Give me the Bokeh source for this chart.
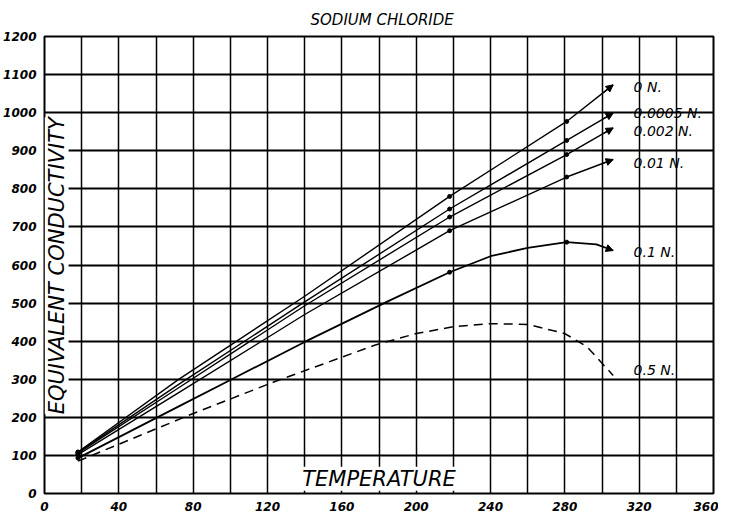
from bokeh.plotting import figure
from bokeh.models import Range1d, FixedTicker, Label, Arrow, NormalHead
from bokeh.embed import file_html
from bokeh.resources import INLINE

# ---- data ----
temps_upper = [18, 72, 140, 218, 281, 306]
cond_0 = [109, 299, 518, 780, 977, 1073]
cond_00005 = [108, 286, 503, 747, 927, 999]
cond_0002 = [106, 277, 493, 726, 890, 960]
cond_001 = [102, 264, 470, 690, 831, 877]

temps_01 = [18, 72, 100, 140, 185, 218, 240, 260, 281, 297, 306]
cond_01 = [93, 228, 298, 398, 505, 581, 623, 645, 660, 654, 638]

temps_05 = [18, 80, 123, 178, 200, 220, 240, 260, 280, 292, 306]
cond_05 = [85, 210, 292, 390, 420, 438, 446, 444, 420, 385, 310]

dot_temps = [18, 218, 281]

series_names = ["0 N.", "0.0005 N.", "0.002 N.", "0.01 N.", "0.1 N.", "0.5 N."]
label_values = [1068, 1000, 953, 869, 633, 323]
label_temp = 317

x_ticks = list(range(0, 361, 40))
x_grid = list(range(0, 361, 20))
y_ticks = list(range(0, 1201, 100))

FONT = "DejaVu Sans"

p = figure(width=718, height=516, x_range=Range1d(0, 360), y_range=Range1d(0, 1200),
           output_backend="svg", toolbar_location=None,
           min_border_left=40, min_border_right=5, min_border_top=36, min_border_bottom=23,
           background_fill_color="white", border_fill_color="white")

p.title.text = "SODIUM CHLORIDE"
p.title.align = "left"
p.title.offset = 266
p.title.standoff = 15
p.title.text_font = FONT
p.title.text_font_size = "15px"
p.title.text_font_style = "italic"
p.title.text_color = "black"

# axes
for ax, ticks in ((p.xaxis, x_ticks), (p.yaxis, y_ticks)):
    ax.ticker = FixedTicker(ticks=ticks)
    ax.axis_line_color = None
    ax.major_tick_line_color = None
    ax.minor_tick_line_color = None
    ax.major_tick_out = 0
    ax.major_tick_in = 0
    ax.minor_tick_out = 0
    ax.minor_tick_in = 0
    ax.axis_label_standoff = 0
    ax.major_label_text_font = FONT
    ax.major_label_text_font_style = "bold italic"
    ax.major_label_text_font_size = "12px"
    ax.major_label_text_color = "black"
p.xaxis.major_label_standoff = 8
p.yaxis.major_label_standoff = 8

p.xgrid.ticker = FixedTicker(ticks=x_grid)
p.ygrid.ticker = FixedTicker(ticks=y_ticks)
p.xgrid.grid_line_color = "black"
p.ygrid.grid_line_color = "black"
p.xgrid.grid_line_width = 1.5
p.ygrid.grid_line_width = 2
p.outline_line_color = "black"
p.outline_line_width = 2

upper = [cond_0, cond_00005, cond_0002, cond_001]
all_solid = [(temps_upper, c) for c in upper] + [(temps_01, cond_01)]

for (ts, vs), lw in zip(all_solid, [1.4, 1.4, 1.4, 1.4, 1.8]):
    p.line(ts, vs, line_color="black", line_width=lw)
    dy = [vs[ts.index(t)] for t in dot_temps]
    p.scatter(dot_temps, dy, size=4, color="black")
    p.add_layout(Arrow(x_start=ts[-2] + 0.8 * (ts[-1] - ts[-2]), y_start=vs[-2] + 0.8 * (vs[-1] - vs[-2]),
                       x_end=ts[-1], y_end=vs[-1], line_color="black", line_width=1.2,
                       end=NormalHead(size=7, fill_color="black", line_color="black")))

p.line(temps_05, cond_05, line_color="black", line_width=1.5, line_dash="9 6")

for name, yv in zip(series_names, label_values):
    p.add_layout(Label(x=label_temp, y=yv, text=name, text_font=FONT, text_font_style="italic",
                       text_font_size="14px", text_baseline="middle", text_align="left",
                       text_color="black"))

p.add_layout(Label(x=180, y=39, text="TEMPERATURE", text_font=FONT, text_font_style="italic",
                   text_font_size="21px", text_baseline="middle", text_align="center",
                   text_color="black", background_fill_color="white"))
p.add_layout(Label(x=6.5, y=598, text="EQUIVALENT CONDUCTIVITY", angle=90, angle_units="deg",
                   text_font=FONT, text_font_style="italic", text_font_size="21px",
                   text_baseline="middle", text_align="center", text_color="black",
                   background_fill_color="white"))

open("out.html", "w").write(file_html(p, INLINE))
